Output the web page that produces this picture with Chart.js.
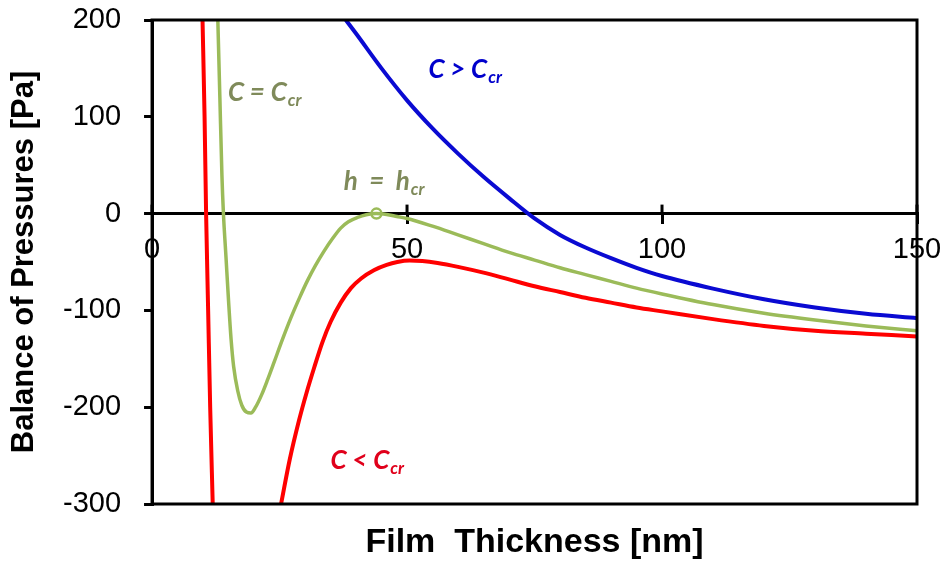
<!DOCTYPE html>
<html>
<head>
<meta charset="utf-8">
<script src="https://cdn.jsdelivr.net/npm/chart.js@4.4.1/dist/chart.umd.min.js"></script>
<style>
  html, body { margin: 0; padding: 0; background: #fff; }
  #wrap { width: 947px; height: 567px; }
</style>
</head>
<body>
<div id="wrap"><canvas id="chart" width="947" height="567"></canvas></div>
<script>
// film thickness [nm] / balance of pressures [Pa]
const redX = [9.9, 10.3, 10.6, 11.0, 11.4, 11.9, 18, 25.3, 27, 28.8, 30.3, 31.8, 33.4, 35, 37, 39, 41, 43.5, 46, 48.1, 50.5, 53, 56, 60, 65, 70, 75, 80, 85, 90, 95, 100, 110, 120, 130, 140, 150];
const redY = [200, 100, 0, -100, -200, -300, null, -300, -254, -214, -185, -159, -133, -112, -92, -77, -67, -58.5, -53, -50, -48.5, -49, -51, -55, -61, -68, -75, -81, -87, -92, -97, -101, -109, -116, -121, -124, -127];

const greenX = [12.9, 13.3, 13.7, 14.0, 14.5, 15.0, 15.5, 16.0, 16.8, 17.6, 18.5, 19.4, 20.3, 21.5, 22.7, 23.9, 25.5, 27.2, 29, 30.5, 32, 33.7, 35.5, 37, 38.5, 40.3, 42, 44, 46, 48, 50, 55, 60, 65, 70, 75, 80, 85, 90, 95, 100, 110, 120, 130, 140, 150];
const greenY = [200, 120, 40, 0, -45, -90, -130, -158, -183, -198, -205, -206, -200, -187, -171, -154, -131, -108, -86, -69, -54, -39, -25, -15, -8.5, -4, -1.2, 0, -1, -3, -5, -13, -22, -31, -40, -48, -56, -63, -70, -77, -83, -94, -103, -110, -116, -121];

const blueX = [38, 40, 45, 50, 55, 60, 65, 70, 75, 80, 85, 90, 95, 100, 110, 120, 130, 140, 150];
const blueY = [200, 186, 150, 117, 88, 62, 38, 16, -5, -22, -35, -46, -56, -64.5, -77.5, -88.5, -97, -103.5, -108];

// critical thickness marker
const peakX = [44];
const peakY = [0];

const xTicks = [0, 50, 100, 150];
const yTicks = [-300, -200, -100, 0, 100, 200];

const pts = (xs, ys) => xs.map((x, i) => ({ x: x, y: ys[i] }));

const FONT = "'Liberation Sans', Arial, sans-serif";
const GREEN = '#9bbb59';
const OLIVE = '#7f8a5a';

// curve labels, anchored in data units (left edge, baseline)
const notes = [
  { main: 'C = C', sub: 'cr', x: 14.9, y: 116, color: OLIVE },
  { main: 'C > C', sub: 'cr', x: 54.2, y: 140, color: '#0000cc' },
  { main: 'h  =  h', sub: 'cr', x: 37.6, y: 24, color: OLIVE },
  { main: 'C < C', sub: 'cr', x: 35.0, y: -264, color: '#e0001b' }
];

const frame = {
  id: 'frame',
  afterDatasetsDraw(chart) {
    const { ctx, chartArea: a, scales } = chart;
    ctx.save();
    ctx.strokeStyle = '#000';
    ctx.lineWidth = 3;
    ctx.strokeRect(a.left, a.top, a.right - a.left, a.bottom - a.top);

    // the x ticks cross the zero line, draw the upper half
    const y0 = scales.y.getPixelForValue(0);
    scales.x2.ticks.forEach(t => {
      const px = scales.x2.getPixelForValue(t.value);
      ctx.beginPath();
      ctx.moveTo(px, y0 - 9);
      ctx.lineTo(px, y0);
      ctx.stroke();
    });

    notes.forEach(n => {
      const px = scales.x.getPixelForValue(n.x);
      const py = scales.y.getPixelForValue(n.y);
      ctx.fillStyle = n.color;
      ctx.textBaseline = 'alphabetic';
      ctx.textAlign = 'left';
      ctx.font = "italic bold 26px Lato, 'Open Sans', sans-serif";
      ctx.fillText(n.main, px, py);
      const w = ctx.measureText(n.main).width;
      ctx.font = "italic bold 17px Lato, 'Open Sans', sans-serif";
      ctx.fillText(n.sub, px + w + 1, py + 5);
    });
    ctx.restore();
  }
};

const curve = (data, color, width) => ({
  data: data,
  borderColor: color,
  borderWidth: width,
  pointRadius: 0,
  fill: false,
  cubicInterpolationMode: 'monotone',
  spanGaps: false,
  clip: 0
});

// tick labels may overhang the plot box, don't let them shrink it
const noPad = s => { s.paddingTop = 0; s.paddingBottom = 0; s.paddingLeft = 0; s.paddingRight = 0; };

new Chart(document.getElementById('chart'), {
  type: 'line',
  data: {
    datasets: [
      curve(pts(blueX, blueY), '#0a0ad2', 4),
      curve(pts(redX, redY), '#ff0000', 4),
      curve(pts(greenX, greenY), GREEN, 3.5),
      {
        data: pts(peakX, peakY),
        showLine: false,
        pointRadius: 5,
        pointBorderWidth: 2.5,
        pointBorderColor: GREEN,
        pointBackgroundColor: '#fff',
        clip: false
      }
    ]
  },
  options: {
    responsive: false,
    animation: false,
    events: [],
    layout: { padding: { left: 0, right: 30, top: 20, bottom: 0 } },
    plugins: { legend: { display: false }, tooltip: { enabled: false } },
    scales: {
      x: {
        type: 'linear',
        position: 'bottom',
        min: 0,
        max: 150,
        afterFit: noPad,
        ticks: { display: false },
        grid: { display: false, drawTicks: false },
        border: { display: false },
        title: {
          display: true,
          text: 'Film  Thickness [nm]',
          color: '#000',
          font: { family: FONT, size: 34, weight: 'bold', lineHeight: 1.2 },
          padding: { top: 18.6, bottom: 3.6 }
        }
      },
      x2: {
        type: 'linear',
        position: { y: 0 },
        min: 0,
        max: 150,
        afterFit: noPad,
        afterBuildTicks: s => { s.ticks = xTicks.map(v => ({ value: v })); },
        ticks: { color: '#000', font: { family: FONT, size: 29 }, padding: 10, maxRotation: 0 },
        grid: { display: true, drawOnChartArea: false, drawTicks: true, tickLength: 9, color: '#000', lineWidth: 3 },
        border: { display: true, color: '#000', width: 3 }
      },
      y: {
        min: -300,
        max: 200,
        afterFit: noPad,
        afterBuildTicks: s => { s.ticks = yTicks.map(v => ({ value: v })); },
        ticks: { color: '#000', font: { family: FONT, size: 29 }, padding: 23 },
        grid: { display: true, drawOnChartArea: false, drawTicks: true, tickLength: 8, color: '#000', lineWidth: 3 },
        border: { display: true, color: '#000', width: 3 },
        title: {
          display: true,
          text: 'Balance of Pressures [Pa]',
          color: '#000',
          font: { family: FONT, size: 31, weight: 'bold', lineHeight: 1.0 },
          padding: { top: 9, bottom: 0 }
        }
      }
    }
  },
  plugins: [frame]
});
</script>
</body>
</html>
